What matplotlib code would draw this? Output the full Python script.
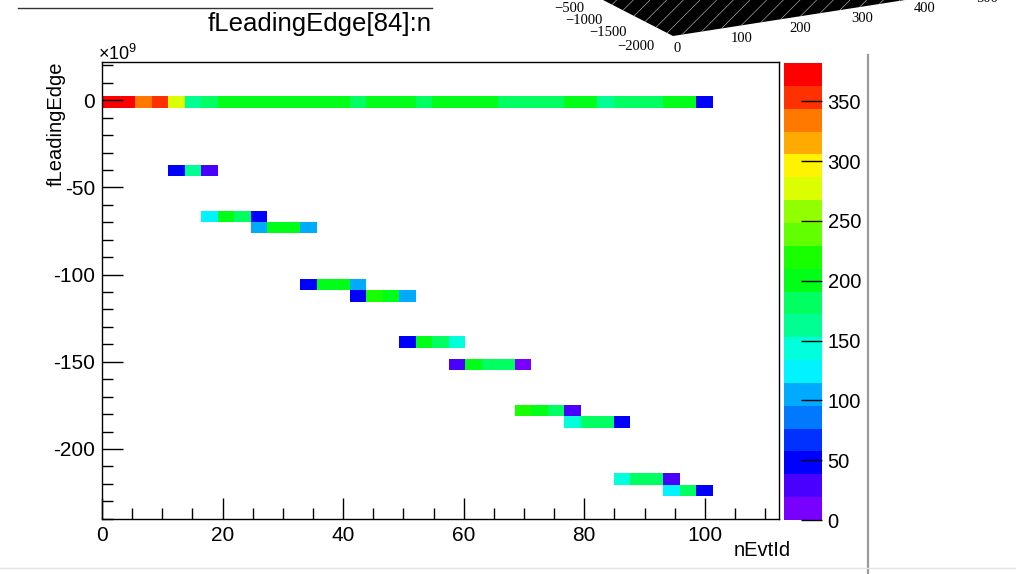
import numpy as np
import matplotlib
matplotlib.use("Agg")
import matplotlib.pyplot as plt
import matplotlib.colors as mcolors
from matplotlib.patches import Polygon
from matplotlib.transforms import Bbox, TransformedBbox
from matplotlib.ticker import MultipleLocator

plt.rcParams['font.family'] = ['Liberation Sans', 'DejaVu Sans']
plt.rcParams['mathtext.fontset'] = 'custom'
plt.rcParams['mathtext.rm'] = 'Liberation Sans'
plt.rcParams['axes.unicode_minus'] = False
plt.rcParams['hatch.linewidth'] = 0.4

# ── Histogram binning (nEvtId x fLeadingEdge [x1e9]) ─────────────────────────
x_edges = np.linspace(0, 112.3, 42)
y_edges = np.linspace(-240.2, 22.0, 41)
z_max = 382

# each filled row: y value, first nEvtId, then bin contents left -> right
row_y = [-1, -40, -66, -73, -106, -112, -139, -152, -178, -184, -217, -224]
row_x0 = [1, 12, 18, 26, 34, 42, 50, 59, 70, 78, 86, 94]

row_a = [372, 370, 335, 352, 278, 165, 180,
         205, 203, 206, 204, 207, 205, 203, 206,
         185, 205, 203, 207, 186, 204, 206, 203, 205,
         184, 182, 186, 183, 205, 207, 165, 182, 185, 181, 204, 206, 48]
row_b = [48, 165, 30]
row_c = [124, 200, 175, 48]
row_d = [105, 200, 195, 105]
row_e = [48, 198, 196, 105]
row_f = [48, 218, 200, 105]
row_g = [48, 205, 180, 145]
row_h = [30, 205, 180, 178, 12]
row_i = [218, 195, 180, 30]
row_j = [145, 182, 180, 48]
row_k = [145, 182, 185, 30]
row_l = [124, 185, 48]
rows = [row_a, row_b, row_c, row_d, row_e, row_f, row_g, row_h, row_i, row_j, row_k, row_l]

z = np.full((len(y_edges) - 1, len(x_edges) - 1), np.nan)
for y, x0, vals in zip(row_y, row_x0, rows):
    j = np.digitize(y, y_edges) - 1
    i0 = np.digitize(x0, x_edges) - 1
    z[j, i0:i0 + len(vals)] = vals
z = np.ma.masked_invalid(z)

# ROOT style rainbow palette, 20 contour levels
hues = 280 * (1 - np.arange(50) / 49) / 360
palette = mcolors.hsv_to_rgb(np.column_stack([hues, np.ones(50), np.ones(50)]))
level_cols = palette[[int((i + 0.99) * 50 / 20) for i in range(20)]]
cmap = mcolors.ListedColormap(level_cols)
levels = np.linspace(0, z_max, 21)
norm = mcolors.BoundaryNorm(levels, 20)

W, H = 1016, 574
fig = plt.figure(figsize=(W / 100, H / 100), dpi=100)

# overlay in pixel coords for the screenshot bits around the pad
ov = fig.add_axes([0, 0, 1, 1])
ov.set_xlim(0, W)
ov.set_ylim(H, 0)
ov.axis("off")

ax = fig.add_axes([102 / W, (H - 519) / H, 677 / W, 457 / H])
cax = fig.add_axes([784 / W, (H - 520) / H, 38 / W, 457 / H])

mesh = ax.pcolormesh(x_edges, y_edges, z, cmap=cmap, norm=norm)
ax.set_xlim(x_edges[0], x_edges[-1])
ax.set_ylim(y_edges[0], y_edges[-1])
ax.xaxis.set_major_locator(MultipleLocator(20))
ax.xaxis.set_minor_locator(MultipleLocator(5))
ax.yaxis.set_major_locator(MultipleLocator(50))
ax.yaxis.set_minor_locator(MultipleLocator(10))
ax.tick_params(which="both", direction="in", top=False, right=False,
               labelsize=15, width=1, color="black")
ax.tick_params(which="major", length=15, pad=5)
ax.tick_params(which="minor", length=8)
for s in ax.spines.values():
    s.set_linewidth(1)

cb = fig.colorbar(mesh, cax=cax, ticks=np.arange(0, 351, 50))
cb.outline.set_visible(False)
cax.tick_params(direction="in", length=15, width=1, labelsize=14.5, pad=4)
cax.minorticks_off()

fig.text(791 / W, 1 - 551 / H, "nEvtId", ha="right", va="center", fontsize=14.5)
fig.text(56 / W, 1 - 62 / H, "fLeadingEdge", rotation=90, ha="center",
         va="top", fontsize=14.5)
fig.text(98 / W, 1 - 60 / H, r"$\times\mathregular{10^{9}}$", ha="left",
         va="baseline", fontsize=13)

# title box, cut off by the other window
ov.plot([18, 432], [8, 8], color="#333333", lw=1)
t = ov.text(208, 24, "fLeadingEdge[84]:nEvtId", ha="left", va="center",
            fontsize=18.5)
t.set_clip_box(TransformedBbox(Bbox([[0, 0], [430, 60]]), ov.transData))
t.set_clip_on(True)

# corner of the 3D lego window
ov.add_patch(Polygon([[603, 0], [673, 36], [905, 0]], closed=True,
                     facecolor="black", edgecolor="#c8c8c8", hatch="//", lw=0))
lego_labels = ["0", "\u2212500", "\u22121000", "\u22121500", "\u22122000",
               "0", "100", "200", "300", "400", "500"]
lego_pos = [(553, -3), (569, 9), (584, 21), (608, 33), (636, 46),
            (677, 48), (742, 39), (800, 28), (862, 18), (925, 8), (987, -2)]
for lab, (px, py) in zip(lego_labels, lego_pos):
    ov.text(px, py, lab, ha="center", va="center", fontsize=10.5,
            family="Liberation Serif")

ov.plot([868, 868], [55, H], color="#9a9a9a", lw=1.6)
ov.plot([0, W], [568, 568], color="#e4e4e4", lw=1)

fig.savefig("out.png", dpi=100)
